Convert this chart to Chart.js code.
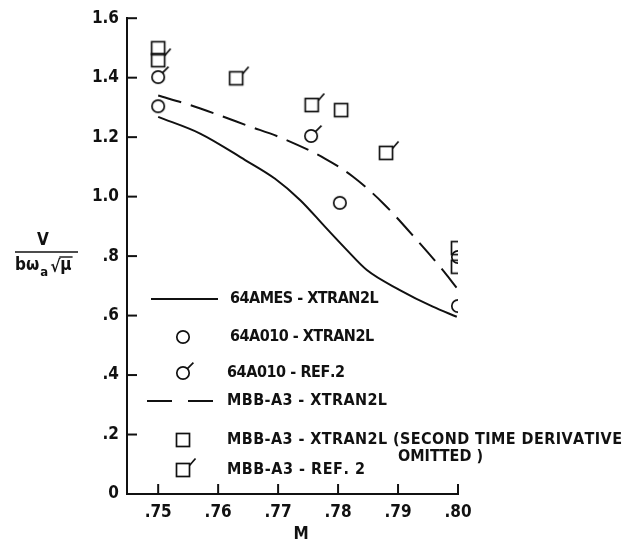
<!DOCTYPE html>
<html><head><meta charset="utf-8">
<script src="https://cdn.jsdelivr.net/npm/chart.js@4.4.0/dist/chart.umd.min.js"></script>
<style>html,body{margin:0;padding:0;background:#fff;}#wrap{width:637px;height:550px;}</style>
</head><body><div id="wrap"><canvas id="c" width="637" height="550"></canvas></div>
<script>
// ---- data ----
const machTicks = [0.75, 0.76, 0.77, 0.78, 0.79, 0.80];
const machTickLabels = ['.75', '.76', '.77', '.78', '.79', '.80'];
const speedTicks = [0, 0.2, 0.4, 0.6, 0.8, 1.0, 1.2, 1.4, 1.6];
const speedTickLabels = ['0', '.2', '.4', '.6', '.8', '1.0', '1.2', '1.4', '1.6'];

// 64AMES - XTRAN2L (solid curve)
const ames64XtranMach  = [0.750, 0.757, 0.7645, 0.7695, 0.7737, 0.7778, 0.7812, 0.7848, 0.7903, 0.7958, 0.7998];
const ames64XtranSpeed = [1.268, 1.212, 1.123, 1.060, 0.988, 0.899, 0.826, 0.753, 0.686, 0.630, 0.596];
// MBB-A3 - XTRAN2L (dashed curve)
const mbbXtranMach  = [0.750, 0.755, 0.760, 0.765, 0.7705, 0.7778, 0.7825, 0.7875, 0.7934, 0.797, 0.800];
const mbbXtranSpeed = [1.340, 1.310, 1.275, 1.238, 1.198, 1.128, 1.067, 0.978, 0.848, 0.764, 0.688];
// 64A010 - XTRAN2L (circles)
const a010XtranMach  = [0.750, 0.7803, 0.800];
const a010XtranSpeed = [1.304, 0.979, 0.632];
// 64A010 - REF.2 (circles with flag)
const a010RefMach  = [0.750, 0.7755, 0.800];
const a010RefSpeed = [1.402, 1.204, 0.797];
// MBB-A3 - XTRAN2L second time derivative omitted (squares)
const mbbNoDerivMach  = [0.750, 0.7805, 0.800];
const mbbNoDerivSpeed = [1.499, 1.291, 0.764];
// MBB-A3 - REF. 2 (squares with flag)
const mbbRefMach  = [0.750, 0.763, 0.7756, 0.788, 0.800];
const mbbRefSpeed = [1.459, 1.398, 1.308, 1.147, 0.827];

const legendLabels = [
  '64AMES - XTRAN2L',
  '64A010 - XTRAN2L',
  '64A010 - REF.2',
  'MBB-A3 - XTRAN2L',
  'MBB-A3 - XTRAN2L (SECOND TIME DERIVATIVE',
  'OMITTED )',
  'MBB-A3 - REF. 2'
];
const xTitle = 'M';

// ---- styles ----
const INK = '#111';
const FONT_FAMILY = "'Liberation Sans Narrow','DejaVu Sans Condensed','Arial Narrow',sans-serif";

function pts(xs, ys) { return xs.map((x, i) => ({ x: x, y: ys[i] })); }

function makeMarker(kind) {
  const s = 34, c = document.createElement('canvas');
  c.width = s; c.height = s;
  const g = c.getContext('2d');
  g.strokeStyle = INK; g.lineWidth = 1.7;
  const m = s / 2;
  if (kind.indexOf('circle') === 0) {
    const r = 6.2;
    g.beginPath(); g.arc(m, m, r, 0, Math.PI * 2); g.stroke();
    if (kind === 'circleFlag') {
      const a = Math.PI / 4;
      g.beginPath();
      g.moveTo(m + r * Math.cos(a), m - r * Math.sin(a));
      g.lineTo(m + r * Math.cos(a) + 6, m - r * Math.sin(a) - 6);
      g.stroke();
    }
  } else {
    const h = 6.5;
    g.strokeRect(m - h, m - h, 2 * h, 2 * h);
    if (kind === 'squareFlag') {
      g.beginPath();
      g.moveTo(m + h, m - h + 2);
      g.lineTo(m + h + 6, m - h - 5);
      g.stroke();
    }
  }
  return c;
}
const mkCircle = makeMarker('circle');
const mkCircleFlag = makeMarker('circleFlag');
const mkSquare = makeMarker('square');
const mkSquareFlag = makeMarker('squareFlag');

function drawSpaced(ctx, text, x, y, target) {
  const chars = Array.from(text);
  const widths = chars.map(ch => ctx.measureText(ch).width);
  const natural = widths.reduce((a, b) => a + b, 0);
  const extra = chars.length > 1 ? Math.max(-0.5, (target - natural) / (chars.length - 1)) : 0;
  let cx = x;
  chars.forEach((ch, i) => { ctx.fillText(ch, cx, y); cx += widths[i] + extra; });
}

const decorPlugin = {
  id: 'decor',
  afterDraw(chart) {
    const ctx = chart.ctx;
    const xs = chart.scales.x, ys = chart.scales.y;
    const ca = chart.chartArea;
    ctx.save();
    ctx.strokeStyle = INK; ctx.fillStyle = INK; ctx.lineWidth = 2;
    // inward tick marks
    speedTicks.forEach(v => {
      if (v === 0) return;
      const py = ys.getPixelForValue(v);
      ctx.beginPath(); ctx.moveTo(ca.left, py); ctx.lineTo(ca.left + 10, py); ctx.stroke();
    });
    machTicks.forEach(v => {
      const px = xs.getPixelForValue(v);
      ctx.beginPath(); ctx.moveTo(px, ca.bottom); ctx.lineTo(px, ca.bottom - 10); ctx.stroke();
    });

    // x title
    ctx.font = 'bold 17px ' + FONT_FAMILY;
    ctx.textAlign = 'center'; ctx.textBaseline = 'middle';
    ctx.fillText(xTitle, 301, 535);

    // y title fraction  V / (b ω_a sqrt(mu))
    ctx.font = 'bold 17px ' + FONT_FAMILY;
    ctx.fillText('V', 43, 241);
    ctx.lineWidth = 1.6;
    ctx.beginPath(); ctx.moveTo(15, 252); ctx.lineTo(78, 252); ctx.stroke();
    ctx.textAlign = 'left'; ctx.textBaseline = 'alphabetic';
    ctx.font = 'bold 17px ' + FONT_FAMILY;
    ctx.fillText('bω', 15, 270);
    let wx = 15 + ctx.measureText('bω').width;
    ctx.font = 'bold 13px ' + FONT_FAMILY;
    ctx.fillText('a', wx + 1, 276);
    wx += ctx.measureText('a').width + 3;
    ctx.font = 'bold 17px ' + FONT_FAMILY;
    ctx.fillText('√', wx, 272);
    const sw = ctx.measureText('√').width;
    ctx.fillText('μ', wx + sw, 270);
    const mw = ctx.measureText('μ').width;
    ctx.lineWidth = 1.4;
    ctx.beginPath(); ctx.moveTo(wx + sw - 1, 257); ctx.lineTo(wx + sw + mw + 1, 257); ctx.stroke();

    // legend
    ctx.lineWidth = 2;
    ctx.beginPath(); ctx.moveTo(151, 299); ctx.lineTo(218, 299); ctx.stroke();
    ctx.setLineDash([25, 16]);
    ctx.beginPath(); ctx.moveTo(147, 401); ctx.lineTo(215, 401); ctx.stroke();
    ctx.setLineDash([]);
    const drawMk = (img, x, y) => ctx.drawImage(img, x - img.width / 2, y - img.height / 2);
    drawMk(mkCircle, 183, 337);
    drawMk(mkCircleFlag, 183, 373);
    drawMk(mkSquare, 183, 440);
    drawMk(mkSquareFlag, 183, 470);

    ctx.font = 'bold 16px ' + FONT_FAMILY;
    ctx.textAlign = 'left'; ctx.textBaseline = 'middle';
    drawSpaced(ctx, legendLabels[0], 230, 299, 130);
    drawSpaced(ctx, legendLabels[1], 230, 337, 132);
    drawSpaced(ctx, legendLabels[2], 227, 373, 118);
    drawSpaced(ctx, legendLabels[3], 227, 401, 160);
    drawSpaced(ctx, legendLabels[4], 227, 440, 395);
    drawSpaced(ctx, legendLabels[5], 398, 457, 85);
    drawSpaced(ctx, legendLabels[6], 227, 470, 138);
    ctx.restore();
  }
};

const scatterBase = { showLine: false, pointRadius: 8, pointHoverRadius: 8, borderColor: INK, backgroundColor: 'rgba(0,0,0,0)' };

new Chart(document.getElementById('c'), {
  type: 'scatter',
  data: {
    datasets: [
      { label: legendLabels[0], data: pts(ames64XtranMach, ames64XtranSpeed), showLine: true, pointRadius: 0,
        borderColor: INK, borderWidth: 2, cubicInterpolationMode: 'monotone', fill: false },
      { label: legendLabels[3], data: pts(mbbXtranMach, mbbXtranSpeed), showLine: true, pointRadius: 0,
        borderColor: INK, borderWidth: 2, borderDash: [24, 10], cubicInterpolationMode: 'monotone', fill: false },
      Object.assign({ label: legendLabels[1], data: pts(a010XtranMach, a010XtranSpeed), pointStyle: mkCircle }, scatterBase),
      Object.assign({ label: legendLabels[2], data: pts(a010RefMach, a010RefSpeed), pointStyle: mkCircleFlag }, scatterBase),
      Object.assign({ label: legendLabels[4], data: pts(mbbNoDerivMach, mbbNoDerivSpeed), pointStyle: mkSquare }, scatterBase),
      Object.assign({ label: legendLabels[6], data: pts(mbbRefMach, mbbRefSpeed), pointStyle: mkSquareFlag }, scatterBase)
    ]
  },
  options: {
    responsive: false,
    animation: false,
    devicePixelRatio: 1,
    layout: { padding: { left: 0, top: 18, right: 179, bottom: 0 } },
    plugins: { legend: { display: false }, tooltip: { enabled: false } },
    scales: {
      x: {
        type: 'linear', min: 0.7448, max: 0.80,
        afterBuildTicks: s => { s.ticks = machTicks.map(v => ({ value: v })); },
        afterFit: s => { s.height = 56; },
        grid: { display: false, drawTicks: false },
        border: { display: true, color: INK, width: 2 },
        ticks: {
          padding: 8, color: INK, maxRotation: 0, autoSkip: false,
          font: { family: FONT_FAMILY, size: 17, weight: 'bold' },
          callback: v => { const i = machTicks.findIndex(t => Math.abs(t - v) < 1e-6); return i >= 0 ? machTickLabels[i] : ''; }
        }
      },
      y: {
        type: 'linear', min: 0, max: 1.6,
        afterBuildTicks: s => { s.ticks = speedTicks.map(v => ({ value: v })); },
        afterFit: s => { s.width = 127; },
        grid: { display: false, drawTicks: false },
        border: { display: true, color: INK, width: 2 },
        ticks: {
          padding: 8, color: INK, autoSkip: false,
          font: { family: FONT_FAMILY, size: 17, weight: 'bold' },
          callback: v => { const i = speedTicks.findIndex(t => Math.abs(t - v) < 1e-6); return i >= 0 ? speedTickLabels[i] : ''; }
        }
      }
    }
  },
  plugins: [decorPlugin]
});
</script>
</body></html>
